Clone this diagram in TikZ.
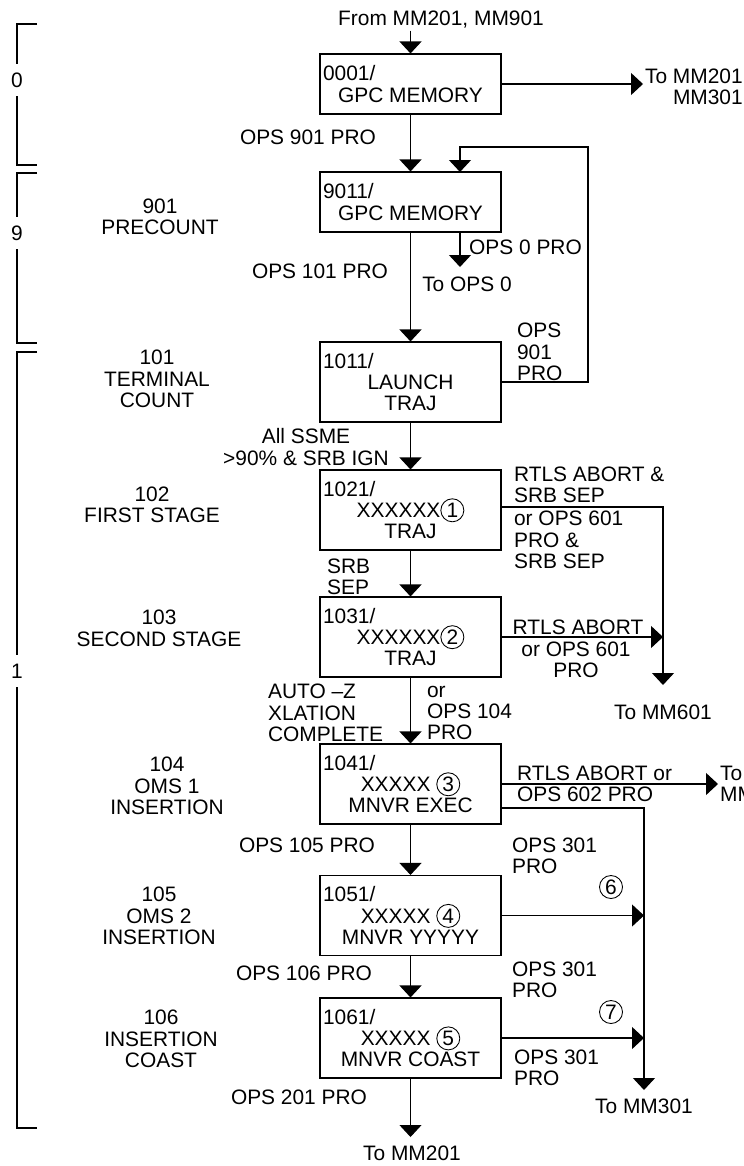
\documentclass[tikz,border=0pt]{standalone}
\usepackage{fontspec}
\setmainfont{Liberation Sans}
\usetikzlibrary{arrows.meta,positioning}
\newcommand{\cnum}[1]{\smash{\tikz[baseline=(cn.base)]\node[circle,draw,line width=0.5pt,inner sep=0pt,minimum size=0.46cm](cn){#1};}}
\newcommand{\modeid}[1]{\makebox[3.5cm][l]{#1}}

\begin{document}
\begin{tikzpicture}[
    x=1cm,y=1cm,
    font=\fontsize{11.9}{12.2}\selectfont,
    mode/.style={draw, line width=0.6pt, align=center, minimum width=3.62cm,
                 inner xsep=0.06cm, inner ysep=0pt},
    phase/.style={align=center, inner sep=1pt},
    cond/.style={align=left, inner sep=1pt},
    ring/.style={circle, draw, line width=0.5pt, inner sep=0pt, minimum size=0.46cm},
    arrow/.style={-{Triangle[width=0.44cm,length=0.24cm]}, line width=0.6pt},
    bracket/.style={line width=0.6pt},
    gap/.style={fill=white, inner xsep=1pt, inner ysep=0.17cm}
]
\useasboundingbox (0,0) rectangle (14.86,-23.32);
\clip (0,0) rectangle (14.86,-23.32);

% OPS brackets on the left
\draw[bracket] (0.74,-0.48) -- (0.34,-0.48) -- (0.34,-3.30) -- (0.74,-3.30);
\draw[bracket] (0.74,-3.46) -- (0.34,-3.46) -- (0.34,-6.86) -- (0.74,-6.86);
\draw[bracket] (0.74,-7.04) -- (0.34,-7.04) -- (0.34,-22.56) -- (0.74,-22.56);
\node[gap] (ops0lbl) at (0.34,-1.60) {0};
\node[gap] (ops9lbl) at (0.34,-4.66) {9};
\node[gap] (ops1lbl) at (0.34,-13.42) {1};

% Major modes
\node[mode, minimum height=1.2cm] (m0001) at (8.21,-1.68) {\modeid{0001/}\\GPC MEMORY};
\node[mode, minimum height=1.2cm] (m9011) at (8.21,-4.04) {\modeid{9011/}\\GPC MEMORY};
\node[mode, minimum height=1.6cm] (m1011) at (8.21,-7.64) {\modeid{1011/}\\LAUNCH\\TRAJ};
\node[mode, minimum height=1.6cm] (m1021) at (8.21,-10.20) {\modeid{1021/}\\XXXXXX\cnum{1}\\TRAJ};
\node[mode, minimum height=1.6cm] (m1031) at (8.21,-12.74) {\modeid{1031/}\\XXXXXX\cnum{2}\\TRAJ};
\node[mode, minimum height=1.6cm] (m1041) at (8.21,-15.68) {\modeid{1041/}\\XXXXX \cnum{3}\\MNVR EXEC};
\node[mode, minimum height=1.6cm] (m1051) at (8.21,-18.31) {\modeid{1051/}\\XXXXX \cnum{4}\\MNVR YYYYY};
\node[mode, minimum height=1.6cm] (m1061) at (8.21,-20.76) {\modeid{1061/}\\XXXXX \cnum{5}\\MNVR COAST};

% Phase names
\node[phase] (precount) at (3.20,-4.34) {901\\PRECOUNT};
\node[phase] (termcount) at (3.14,-7.58) {101\\TERMINAL\\COUNT};
\node[phase] (firststage) at (3.04,-10.10) {102\\FIRST STAGE};
\node[phase] (secondstage) at (3.18,-12.57) {103\\SECOND STAGE};
\node[phase] (oms1) at (3.34,-15.72) {104\\OMS 1\\INSERTION};
\node[phase] (oms2) at (3.18,-18.32) {105\\OMS 2\\INSERTION};
\node[phase] (inscoast) at (3.22,-20.78) {106\\INSERTION\\COAST};

% Entry and exit labels
\node[phase] (from) at (8.82,-0.40) {From MM201, MM901};
\node[phase, anchor=west, align=right] (tomm1) at (12.86,-1.74) {To MM201\\MM301};
\node[phase] (toops0) at (9.34,-5.68) {To OPS 0};
\node[phase] (tomm601) at (13.26,-14.24) {To MM601};
\node[cond, anchor=west] (tomm602) at (14.36,-15.68) {To\\MM602};
\node[phase] (tomm301) at (12.88,-22.12) {To MM301};
\node[phase] (tomm201) at (8.24,-23.07) {To MM201};
\coordinate (loop) at (11.76,-2.94);
\coordinate (in9011) at (9.20,-3.44);
\coordinate (ops0end) at (9.20,-5.34);
\coordinate (mm601end) at (13.26,-13.70);
\coordinate (mm301end) at (12.88,-21.80);
\coordinate (mm201end) at (8.21,-22.74);

% Transition conditions
\node[phase] (ops901) at (6.16,-2.74) {OPS 901 PRO};
\node[phase] (ops101) at (6.40,-5.42) {OPS 101 PRO};
\node[cond, anchor=west] (ops0) at (9.34,-4.94) {OPS 0 PRO};
\node[cond, anchor=west] (ops901b) at (10.30,-7.04) {OPS\\901\\PRO};
\node[phase] (ssme) at (6.12,-8.94) {All SSME\\>90\% \& SRB IGN};
\node[cond, anchor=west] (rtls1) at (10.24,-9.70) {RTLS ABORT \&\\SRB SEP};
\node[cond, anchor=west] (rtls1b) at (10.24,-10.80) {or OPS 601\\PRO \&\\SRB SEP};
\node[cond, anchor=west] (srbsep) at (6.50,-11.54) {SRB\\SEP};
\node[phase] (rtls2) at (11.56,-12.54) {RTLS ABORT};
\node[phase] (rtls2b) at (11.52,-13.20) {or OPS 601\\PRO};
\node[cond, anchor=west] (autoz) at (5.32,-14.26) {AUTO –Z\\XLATION\\COMPLETE};
\node[cond, anchor=west] (ops104) at (8.50,-14.26) {or\\OPS 104\\PRO};
\node[cond, anchor=west] (rtls3) at (10.30,-15.68) {RTLS ABORT or\\OPS 602 PRO};
\node[phase] (ops105) at (6.14,-16.90) {OPS 105 PRO};
\node[cond, anchor=west] (ops301a) at (10.20,-17.12) {OPS 301\\PRO};
\node[ring] (r6) at (12.22,-17.74) {6};
\node[phase] (ops106) at (6.08,-19.46) {OPS 106 PRO};
\node[cond, anchor=west] (ops301b) at (10.20,-19.60) {OPS 301\\PRO};
\node[ring] (r7) at (12.22,-20.24) {7};
\node[cond, anchor=west] (ops301c) at (10.24,-21.36) {OPS 301\\PRO};
\node[phase] (ops201) at (5.98,-21.94) {OPS 201 PRO};

% Transitions
\draw[arrow] (m0001.north |- from.south) -- (m0001.north);
\draw[arrow] (m0001.east) -- (m0001.east -| tomm1.west);
\draw[arrow] (m0001) -- (m9011);
\draw[arrow] (m1011.east) -| (loop) -| (in9011);
\draw[arrow] (m9011.south -| ops0end) -- (ops0end);
\draw[arrow] (m9011) -- (m1011);
\draw[arrow] (m1011) -- (m1021);
\draw[arrow] ([yshift=0.06cm]m1021.east) -| (mm601end);
\draw[arrow] (m1021) -- (m1031);
\draw[arrow] (m1031.east) -- (m1031.east -| mm601end);
\draw[arrow] (m1031) -- (m1041);
\draw[arrow] (m1041.east) -- (m1041.east -| tomm602.west);
\draw[arrow] ([yshift=-0.48cm]m1041.east) -| (mm301end);
\draw[arrow] (m1041) -- (m1051);
\draw[arrow] (m1051.east) -- (m1051.east -| mm301end);
\draw[arrow] (m1051) -- (m1061);
\draw[arrow] (m1061.east) -- (m1061.east -| mm301end);
\draw[arrow] (m1061) -- (mm201end);
\end{tikzpicture}
\end{document}
